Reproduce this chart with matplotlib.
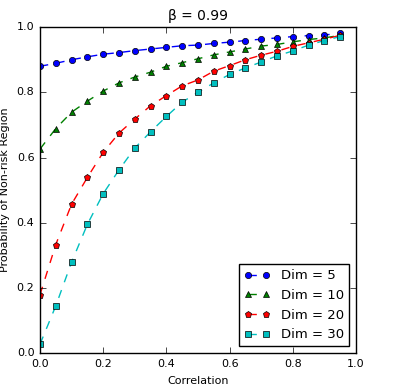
import numpy as np
import matplotlib
matplotlib.use('Agg')
import matplotlib.pyplot as plt

plt.style.use('classic')

corr = np.arange(20) * 0.05

dim5 = [0.880, 0.889, 0.900, 0.909, 0.917, 0.922, 0.928, 0.933, 0.938, 0.943,
        0.945, 0.950, 0.954, 0.959, 0.963, 0.967, 0.971, 0.974, 0.976, 0.981]
dim10 = [0.626, 0.689, 0.739, 0.773, 0.804, 0.829, 0.847, 0.862, 0.880, 0.891,
         0.903, 0.915, 0.924, 0.933, 0.942, 0.947, 0.955, 0.962, 0.967, 0.975]
dim20 = [0.179, 0.333, 0.457, 0.539, 0.616, 0.675, 0.718, 0.759, 0.790, 0.820,
         0.838, 0.865, 0.882, 0.900, 0.914, 0.926, 0.941, 0.952, 0.963, 0.975]
dim30 = [0.027, 0.145, 0.279, 0.395, 0.489, 0.562, 0.629, 0.679, 0.726, 0.770,
         0.800, 0.829, 0.855, 0.875, 0.893, 0.912, 0.927, 0.945, 0.959, 0.971]

fig = plt.figure(figsize=(3.96, 3.88), dpi=100)
ax = fig.add_axes([0.101, 0.090, 0.798, 0.840])

ms = 4.5
ax.plot(corr, dim5, 'bo--', markersize=ms, label='Dim = 5')
ax.plot(corr, dim10, 'g^--', markersize=ms, label='Dim = 10')
ax.plot(corr, dim20, 'rp--', markersize=ms, label='Dim = 20')
ax.plot(corr, dim30, 'cs--', markersize=ms, label='Dim = 30')

ax.set_xlim(0, 1)
ax.set_ylim(0, 1)
ax.set_title(u'\u03b2 = 0.99', fontsize=10)
ax.set_xlabel('Correlation', fontsize=8)
ax.set_ylabel('Probability of Non-risk Region', fontsize=8)
ax.tick_params(labelsize=8)
ax.legend(loc='lower right', fontsize=9.5, numpoints=2)

fig.savefig('out.png', dpi=100)
